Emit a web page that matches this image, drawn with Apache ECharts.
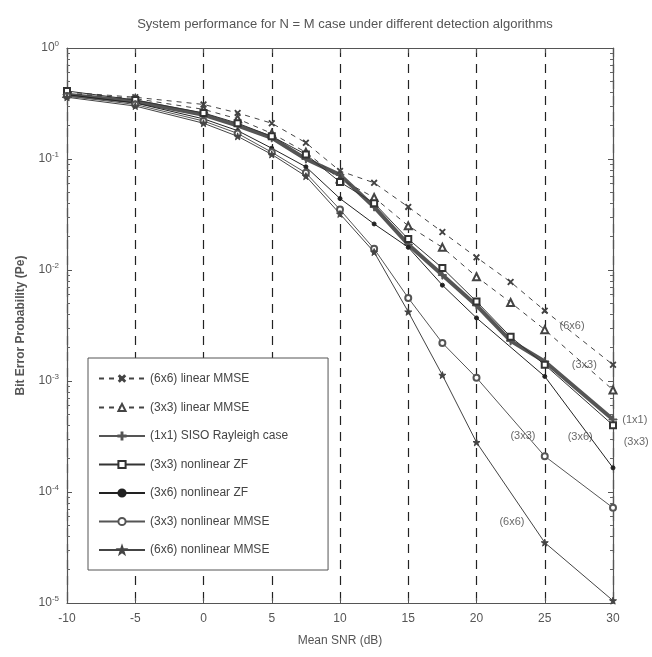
<!DOCTYPE html>
<html>
<head>
<meta charset="utf-8">
<script src="https://cdn.jsdelivr.net/npm/echarts@6/dist/echarts.min.js"></script>
<style>
  html, body { margin: 0; padding: 0; background: #fff; }
  #chart { width: 652px; height: 657px; }
</style>
</head>
<body>
<div id="chart"></div>
<script>
// SNR points (dB)
const snr = [-10, -5, 0, 2.5, 5, 7.5, 10, 12.5, 15, 17.5, 20, 22.5, 25, 30]

// bit error probability per curve (null = no point)
const linMmse66 = [0.40, 0.36, 0.31, 0.26, 0.21, 0.14, 0.078, 0.061, 0.037, 0.022, 0.013, 0.0078, 0.0043, 0.0014]
const linMmse33 = [0.39, 0.35, 0.28, 0.23, 0.17, 0.115, 0.066, 0.045, 0.025, 0.016, 0.0087, 0.0051, 0.0029, 0.00083]
const siso11 = [0.38, 0.33, 0.25, 0.20, 0.155, 0.10, 0.072, 0.037, 0.017, 0.0090, 0.0048, 0.0023, 0.0015, 0.00045]
const zf33 = [0.41, 0.34, 0.26, 0.21, 0.16, 0.11, 0.062, 0.040, 0.019, 0.0104, 0.0052, 0.0025, 0.0014, 0.00040]
const zf36 = [0.38, 0.32, 0.23, 0.18, 0.125, 0.085, 0.044, 0.026, 0.016, 0.0073, 0.0037, null, 0.0011, 0.000165]
const nmmse33 = [0.37, 0.31, 0.22, 0.17, 0.115, 0.075, 0.035, 0.0155, 0.0056, 0.0022, 0.00107, null, 0.00021, 0.000072]
const nmmse66 = [0.36, 0.30, 0.21, 0.16, 0.11, 0.070, 0.032, 0.0145, 0.0042, 0.00113, 0.00028, null, 0.000035, 0.0000105]

const seriesNames = [
  '(6x6) linear MMSE',
  '(3x3) linear MMSE',
  '(1x1) SISO Rayleigh case',
  '(3x3) nonlinear ZF',
  '(3x6) nonlinear ZF',
  '(3x3) nonlinear MMSE',
  '(6x6) nonlinear MMSE'
]

// curve labels written on the plot: [snr, pe, text]
const curveLabels = [
  [27.0, 3.1e-3, '(6x6)'],
  [27.9, 1.4e-3, '(3x3)'],
  [31.6, 4.5e-4, '(1x1)'],
  [31.7, 2.8e-4, '(3x3)'],
  [23.4, 3.2e-4, '(3x3)'],
  [27.6, 3.1e-4, '(3x6)'],
  [22.6, 5.4e-5, '(6x6)']
]

const xTicks = [-10, -5, 0, 5, 10, 15, 20, 25, 30]

const plusPath = 'path://M4.4,0H5.6V4.4H10V5.6H5.6V10H4.4V5.6H0V4.4H4.4Z'
const starPath = 'path://M5,0L6.2,3.6L10,3.7L7,6L8.1,9.7L5,7.5L1.9,9.7L3,6L0,3.7L3.8,3.6Z'

const toPairs = vals => snr.map((x, i) => vals[i] == null ? null : [x, vals[i]]).filter(Boolean)

const makeLine = (name, vals, opts) => ({
  name,
  type: 'line',
  data: toPairs(vals),
  symbol: opts.symbol,
  symbolSize: opts.size || 6,
  symbolRotate: opts.rotate || 0,
  showAllSymbol: true,
  lineStyle: {
    color: opts.color || '#3a3a3a',
    width: opts.width || 1,
    type: opts.dashed ? [5, 5] : 'solid'
  },
  itemStyle: {
    color: opts.fill || opts.color || '#3a3a3a',
    borderColor: opts.color || '#3a3a3a',
    borderWidth: 1
  },
  z: opts.z || 3
})

const chart = echarts.init(document.getElementById('chart'))

const supLabel = v => {
  const e = Math.round(Math.log10(v))
  return '10{sup|' + e + '}'
}

const frameAxis = { show: true, onZero: false, lineStyle: { color: '#555', width: 1.2 } }
const frameTick = { inside: true, length: 5, lineStyle: { color: '#555' } }

const option = {
  animation: false,
  backgroundColor: '#fff',
  textStyle: { fontFamily: 'Liberation Sans, Arial, sans-serif' },
  title: {
    text: 'System performance for N = M case under different detection algorithms',
    left: 340,
    textAlign: 'center',
    top: 13,
    textStyle: { fontSize: 13, fontWeight: 'normal', color: '#555' }
  },
  legend: {
    orient: 'vertical',
    left: 88,
    top: 358,
    data: seriesNames,
    itemWidth: 46,
    itemHeight: 9,
    itemGap: 16.5,
    padding: [14, 40, 14, 10],
    backgroundColor: '#fff',
    borderColor: '#555',
    borderWidth: 1,
    borderRadius: 0,
    textStyle: { fontSize: 12, color: '#444' },
    selectedMode: false
  },
  grid: { left: 67, right: 39, top: 48, bottom: 54 },
  xAxis: [
    {
      type: 'value',
      min: -10,
      max: 30,
      interval: 5,
      name: 'Mean SNR (dB)',
      nameLocation: 'middle',
      nameGap: 32,
      nameTextStyle: { fontSize: 12, color: '#555' },
      axisLine: frameAxis,
      axisTick: frameTick,
      axisLabel: {
        fontSize: 12,
        color: '#555',
        margin: 10,
        formatter: v => (xTicks.indexOf(v) >= 0 ? String(v) : '')
      },
      splitLine: { show: true, lineStyle: { color: '#222', type: [9, 7], width: 1.2 } }
    },
    {
      type: 'value',
      position: 'top',
      min: -10,
      max: 30,
      interval: 5,
      axisLine: frameAxis,
      axisTick: frameTick,
      axisLabel: { show: false },
      splitLine: { show: false }
    }
  ],
  yAxis: [
    {
      type: 'log',
      logBase: 10,
      min: 1e-5,
      max: 1,
      name: 'Bit Error Probability (Pe)',
      nameLocation: 'middle',
      nameGap: 40,
      nameTextStyle: { fontSize: 12, color: '#555', fontWeight: 'bold' },
      axisLine: frameAxis,
      axisTick: frameTick,
      minorTick: { show: true, splitNumber: 9, length: 3, lineStyle: { color: '#666' } },
      axisLabel: {
        color: '#555',
        fontSize: 12,
        margin: 8,
        formatter: supLabel,
        rich: { sup: { fontSize: 8, color: '#555', verticalAlign: 'top', padding: [0, 0, 8, 0] } }
      },
      splitLine: { show: false }
    },
    {
      type: 'log',
      logBase: 10,
      min: 1e-5,
      max: 1,
      position: 'right',
      axisLine: frameAxis,
      axisTick: frameTick,
      minorTick: { show: true, splitNumber: 9, length: 3, lineStyle: { color: '#666' } },
      axisLabel: { show: false },
      splitLine: { show: false }
    }
  ],
  series: [
    makeLine(seriesNames[0], linMmse66, { symbol: plusPath, rotate: 45, size: 7, dashed: true, color: '#444' }),
    makeLine(seriesNames[1], linMmse33, { symbol: 'emptyTriangle', size: 7, dashed: true, color: '#444' }),
    makeLine(seriesNames[2], siso11, { symbol: plusPath, size: 8, width: 4, color: '#555', z: 2 }),
    makeLine(seriesNames[3], zf33, { symbol: 'emptyRect', size: 6, color: '#333' }),
    makeLine(seriesNames[4], zf36, { symbol: 'circle', size: 4, color: '#222' }),
    makeLine(seriesNames[5], nmmse33, { symbol: 'emptyCircle', size: 6, color: '#555' }),
    makeLine(seriesNames[6], nmmse66, { symbol: starPath, size: 7, color: '#444' }),
    {
      name: 'labels',
      type: 'scatter',
      clip: false,
      symbolSize: 0,
      data: curveLabels.map(d => ({ value: [d[0], d[1]], name: d[2] })),
      label: {
        show: true,
        position: 'inside',
        formatter: p => p.name,
        fontSize: 11,
        color: '#444'
      },
      z: 5
    }
  ]
}

chart.setOption(option)
</script>
</body>
</html>
